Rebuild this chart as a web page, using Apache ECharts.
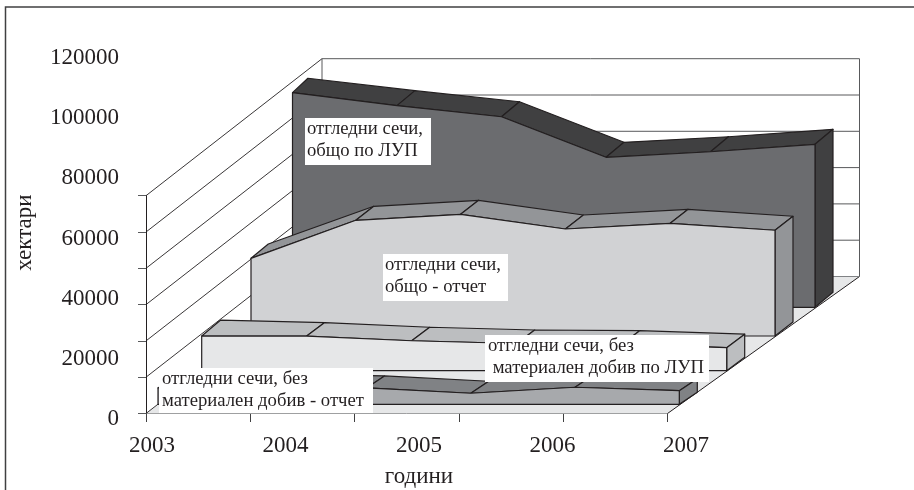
<!DOCTYPE html>
<html><head><meta charset="utf-8">
<style>html,body{margin:0;padding:0;background:#fff}#c{width:914px;height:490px}</style>
<script src="https://cdn.jsdelivr.net/npm/echarts@6/dist/echarts.min.js"></script>
</head><body><div id="c"></div>
<script>
const years = [2003, 2004, 2005, 2006, 2007];
const slots = [0, 1, 2, 3, 4, 5];
const yTicks = [0, 20000, 40000, 60000, 80000, 100000, 120000];
const obshtoLup = [118250, 111100, 105000, 82650, 85700, 89800];
const obshtoOtchet = [42800, 63750, 67050, 58950, 62100, 58250];
const bezLup = [19100, 19100, 16500, 15000, 14600, 12700];
const bezOtchet = [9000, 10000, 9000, 6100, 9400, 7500];
const labelLup = ['отгледни сечи,', 'общо по ЛУП'];
const labelOtchet = ['отгледни сечи,', 'общо - отчет'];
const labelBezLup = ['отгледни сечи, без', ' материален добив по ЛУП'];
const labelBezOtchet = ['отгледни сечи, без', 'материален добив - отчет'];

const FONT = '"Liberation Serif","Times New Roman",serif';
const INK = '#231f20';
const chart = echarts.init(document.getElementById('c'), null, {renderer: 'canvas'});

// depth projection: pixel shift of a plane behind the front one
function shift(d, frac) { return [d.dxL + (d.dxR - d.dxL) * frac, -d.dy]; }
const wall = {dxL: 176, dxR: 192, dy: 137};

function wallItem(params, api) {
  if (params.dataIndex !== 0) return null;
  const a = api.coord([0, 0]), b = api.coord([5, 0]);
  const children = [];
  const sA = shift(wall, 0), sB = shift(wall, 1);
  children.push({type: 'polygon', shape: {points: [a, b, [b[0] + sB[0], b[1] + sB[1]], [a[0] + sA[0], a[1] + sA[1]]]},
    style: {fill: '#e6e7e8', stroke: null}});
  children.push({type: 'line', shape: {x1: b[0], y1: b[1], x2: b[0] + sB[0], y2: b[1] + sB[1]},
    style: {stroke: INK, lineWidth: 1}});
  yTicks.forEach(function (v) {
    const p = api.coord([0, v]);
    const q = [p[0] + sA[0], p[1] + sA[1]];
    const r = [p[0] + sA[0] + (b[0] + sB[0] - a[0] - sA[0]), q[1]];
    children.push({type: 'line', shape: {x1: p[0], y1: p[1], x2: q[0], y2: q[1]}, style: {stroke: INK, lineWidth: 0.9}});
    children.push({type: 'line', shape: {x1: q[0], y1: q[1], x2: r[0], y2: r[1]}, style: {stroke: v === 0 ? '#808285' : '#58595b', lineWidth: 1}});
  });
  const top = api.coord([0, 120000]);
  const tl = [top[0] + sA[0], top[1] + sA[1]];
  const bl = [a[0] + sA[0], a[1] + sA[1]];
  children.push({type: 'line', shape: {x1: tl[0], y1: tl[1], x2: bl[0], y2: bl[1]}, style: {stroke: '#58595b', lineWidth: 1}});
  const rx = b[0] + sB[0];
  children.push({type: 'line', shape: {x1: rx, y1: tl[1], x2: rx, y2: bl[1]}, style: {stroke: '#58595b', lineWidth: 1}});
  return {type: 'group', children: children};
}

function slab(values, d, front, side) {
  return function (params, api) {
    if (params.dataIndex !== 0) return null;
    const n = values.length - 1;
    const base = api.coord([0, 0])[1];
    const fr = values.map(function (v, i) {
      const p = api.coord([slots[i], v]);
      const s = shift(d, i / n);
      return [p[0] + s[0], p[1] + s[1]];
    });
    const bk = fr.map(function (p, i) {
      return i === 0 ? [p[0] + d.tx0, p[1] - d.ty0] : [p[0] + d.tx, p[1] - d.ty];
    });
    const y0 = base - d.dy;
    const children = [];
    const st = function (f) { return {fill: f, stroke: INK, lineWidth: 1.2, lineJoin: 'round'}; };
    for (let i = 0; i < n; i++) {
      children.push({type: 'polygon', shape: {points: [fr[i], fr[i + 1], bk[i + 1], bk[i]]}, style: st(side)});
    }
    const last = fr[n], lastB = bk[n];
    children.push({type: 'polygon', shape: {points: [last, lastB, [lastB[0], y0 - d.ty], [last[0], y0]]}, style: st(side)});
    const face = fr.concat([[last[0], y0], [fr[0][0], y0]]);
    children.push({type: 'polygon', shape: {points: face}, style: st(front)});
    return {type: 'group', children: children};
  };
}

const layers = [
  {name: 'общо по ЛУП', values: obshtoLup, d: {dxL: 146.5, dxR: 147.5, dy: 106.2, tx: 18, ty: 15, tx0: 15.4, ty0: 14.4}, front: '#6b6c6f', side: '#404041'},
  {name: 'общо - отчет', values: obshtoOtchet, d: {dxL: 105, dxR: 107.5, dy: 77.5, tx: 18, ty: 14, tx0: 17.3, ty0: 14.3}, front: '#d1d2d4', side: '#939598'},
  {name: 'без материален добив по ЛУП', values: bezLup, d: {dxL: 55.7, dxR: 59.2, dy: 42.8, tx: 18, ty: 13.5, tx0: 19, ty0: 16}, front: '#e6e7e8', side: '#bcbec0'},
  {name: 'без материален добив - отчет', values: bezOtchet, d: {dxL: 12, dxR: 11.8, dy: 9.2, tx: 18, ty: 12, tx0: 18, ty0: 12}, front: '#a7a9ac', side: '#808285'}
];

const series = [{
  type: 'custom', name: 'стени', xAxisIndex: 0, yAxisIndex: 0, silent: true,
  renderItem: wallItem, data: yTicks.map(function (v) { return [0, v]; })
}].concat(layers.map(function (l) {
  return {
    type: 'custom', name: l.name, xAxisIndex: 0, yAxisIndex: 0, silent: true,
    renderItem: slab(l.values, l.d, l.front, l.side),
    data: l.values.map(function (v, i) { return [slots[i], v]; })
  };
}));

function box(x, y, w, h, lines, tx, ty, lh) {
  const out = [{type: 'rect', z: 100, shape: {x: x, y: y, width: w, height: h}, style: {fill: '#fff'}}];
  lines.forEach(function (t, i) {
    out.push({type: 'text', z: 101, x: tx, y: ty + i * lh,
      style: {text: t, font: '18.7px ' + FONT, fill: INK, textVerticalAlign: 'middle', verticalAlign: 'middle'}});
  });
  return out;
}

const elements = [
  {type: 'polyline', z: 100, shape: {points: [[5.5, 490], [5.5, 7], [914, 7]]}, style: {stroke: '#404041', lineWidth: 1.5, fill: null}}
].concat(
  box(305, 118, 126, 47, labelLup, 307, 129, 21.7),
  box(383, 254, 125, 47, labelOtchet, 385, 265, 21.7),
  box(485, 335, 224, 47, labelBezLup, 488, 346, 21.7),
  box(159, 368, 214, 45, labelBezOtchet, 162, 379, 21.7)
);

chart.setOption({
  animation: false,
  backgroundColor: '#fff',
  graphic: {elements: elements},
  grid: [
    {left: 146, top: 195.7, width: 521.5, height: 217.8, outerBoundsMode: 'none'},
    {left: 152, top: 58, width: 534, height: 361.3, outerBoundsMode: 'none'}
  ],
  xAxis: [
    {type: 'value', gridIndex: 0, min: 0, max: 5, interval: 1, splitLine: {show: false},
      axisLine: {show: true, onZero: false, lineStyle: {color: '#58595b', width: 1}},
      axisTick: {show: true, length: 8.5, lineStyle: {color: '#404041', width: 1}},
      axisLabel: {show: false}},
    {type: 'value', gridIndex: 1, min: years[0], max: years[4], interval: 1, splitLine: {show: false},
      axisLine: {show: false}, axisTick: {show: false},
      axisLabel: {show: true, margin: 15, color: INK, fontFamily: FONT, fontSize: 23, formatter: function (v) { return String(v); }, hideOverlap: false},
      name: 'години', nameLocation: 'middle', nameGap: 58,
      nameTextStyle: {color: INK, fontFamily: FONT, fontSize: 23, verticalAlign: 'middle'}}
  ],
  yAxis: [
    {type: 'value', gridIndex: 0, min: 0, max: 120000, interval: 20000, splitLine: {show: false},
      axisLine: {show: true, onZero: false, lineStyle: {color: INK, width: 1}},
      axisTick: {show: true, length: 8, lineStyle: {color: '#58595b', width: 1}},
      axisLabel: {show: false}},
    {type: 'value', gridIndex: 1, min: 0, max: 120000, interval: 20000, splitLine: {show: false},
      axisLine: {show: false}, axisTick: {show: false},
      axisLabel: {show: true, margin: 33, color: INK, fontFamily: FONT, fontSize: 23, formatter: function (v) { return String(v); }},
      name: 'хектари', nameLocation: 'middle', nameGap: 127, nameRotate: 90,
      nameTextStyle: {color: INK, fontFamily: FONT, fontSize: 23, verticalAlign: 'middle', padding: [0, 0, 0, 12]}}
  ],
  series: series
});
</script></body></html>
